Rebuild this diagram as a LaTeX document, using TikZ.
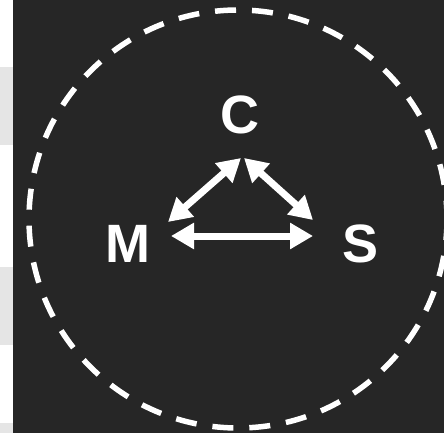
\documentclass[tikz,border=0pt]{standalone}
\usepackage{fontspec}
\setmainfont{Liberation Sans}
\usepackage{xcolor}
\usetikzlibrary{arrows.meta, positioning}
\definecolor{bgdark}{HTML}{262626}
\definecolor{stripgray}{HTML}{E5E5E5}
\tikzset{
  letter/.style={inner sep=0pt, anchor=base, text=white,
                 font=\fontsize{54bp}{54bp}\selectfont\bfseries},
  ring/.style={draw=white, line width=5.5bp, dash pattern=on 21bp off 16bp},
  link/.style={{Triangle[length=23bp,width=25bp]}-{Triangle[length=23bp,width=25bp]},
               line width=7bp, white},
}
\begin{document}
\begin{tikzpicture}[x=1bp, y=-1bp]

  % --- Background ---
  \useasboundingbox (0,0) rectangle (444,433);
  \fill[white] (0,0) rectangle (13,433);
  \fill[stripgray] (0,67) rectangle (13,145);
  \fill[stripgray] (0,267) rectangle (13,345);
  \fill[stripgray] (0,423) rectangle (13,433);
  \fill[bgdark] (13,0) rectangle (444,433);

  % --- Dashed ring ---
  \begin{scope}
    \clip (13,0) rectangle (444,433);
    \draw[ring] (238,219) circle (209);
  \end{scope}

  % --- Letters ---
  \node[letter] (c) at (240,134) {C};
  \node[letter] (m) at (128,262) {M};
  \node[letter] (s) at (361,262) {S};

  % --- Arrows ---
  \draw[link] ([shift={(1,24)}]c.base) -- ([shift={(40,-40)}]m.base);
  \draw[link] ([shift={(4,24)}]c.base) -- ([shift={(-48,-42)}]s.base);
  \draw[link] ([shift={(43,-26)}]m.base) -- ([shift={(-48,-26)}]s.base);

\end{tikzpicture}
\end{document}
